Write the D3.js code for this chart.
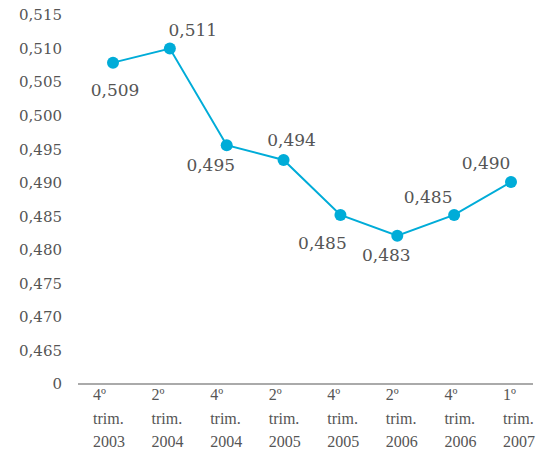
<!DOCTYPE html>
<html><head><meta charset="utf-8">
<script src="https://cdn.jsdelivr.net/npm/d3@7"></script>
<style>body{margin:0;background:#fff}</style>
</head><body>
<svg id="c" width="554" height="462"></svg>
<script>
const quarters = ["4º","2º","4º","2º","4º","2º","4º","1º"];
const years = ["2003","2004","2004","2005","2005","2006","2006","2007"];
const values = [0.5079, 0.5100, 0.4956, 0.4934, 0.4852, 0.4821, 0.4852, 0.4901];
const valueLabels = ["0,509","0,511","0,495","0,494","0,485","0,483","0,485","0,490"];
const yTicks = [0.460, 0.465, 0.470, 0.475, 0.480, 0.485, 0.490, 0.495, 0.500, 0.505, 0.510, 0.515];
const yTickLabels = ["0","0,465","0,470","0,475","0,480","0,485","0,490","0,495","0,500","0,505","0,510","0,515"];

// label placement offsets (layout)
const labelOffsets = [[2,27],[23,-19],[-16,20],[8,-20],[-18,28],[-11,19],[-26,-18],[-25,-19]];

const svg = d3.select("#c");
const idx = d3.range(values.length);
const x = d3.scalePoint().domain(idx).range([113, 511]);
const xl = d3.scalePoint().domain(idx).range([93, 503]);
const y = d3.scaleLinear().domain([0.460, 0.515]).range([384, 15]);
const textColor = "#555";
const blue = "#00acd8";

// y tick labels
svg.append("g").selectAll("text").data(yTicks).join("text")
  .attr("x", 62).attr("y", d => y(d)).attr("dy", "0.36em")
  .attr("text-anchor", "end")
  .attr("font-family", "DejaVu Serif").attr("font-size", 15)
  .attr("fill", textColor)
  .text((d, i) => yTickLabels[i]);

// baseline axis
svg.append("line").attr("x1", 78).attr("x2", 533)
  .attr("y1", y(0.460)).attr("y2", y(0.460))
  .attr("stroke", "#aaa").attr("stroke-width", 2);

// x labels
const xg = svg.append("g").selectAll("text").data(idx).join("text")
  .attr("font-family", "Liberation Serif").attr("font-size", 16)
  .attr("fill", textColor);
xg.append("tspan").attr("x", d => xl(d)).attr("y", 400).text(d => quarters[d]);
xg.append("tspan").attr("x", d => xl(d)).attr("y", 424).text("trim.");
xg.append("tspan").attr("x", d => xl(d)).attr("y", 447).text(d => years[d]);

// line
svg.append("path").datum(idx)
  .attr("d", d3.line().x(d => x(d)).y(d => y(values[d])))
  .attr("fill", "none").attr("stroke", blue).attr("stroke-width", 2);

svg.append("g").selectAll("circle").data(idx).join("circle")
  .attr("cx", d => x(d)).attr("cy", d => y(values[d])).attr("r", 6)
  .attr("fill", blue);

svg.append("g").selectAll("text").data(idx).join("text")
  .attr("x", d => x(d) + labelOffsets[d][0])
  .attr("y", d => y(values[d]) + labelOffsets[d][1])
  .attr("dy", "0.36em").attr("text-anchor", "middle")
  .attr("font-family", "DejaVu Serif").attr("font-size", 17)
  .attr("fill", textColor)
  .text(d => valueLabels[d]);
</script>
</body></html>
